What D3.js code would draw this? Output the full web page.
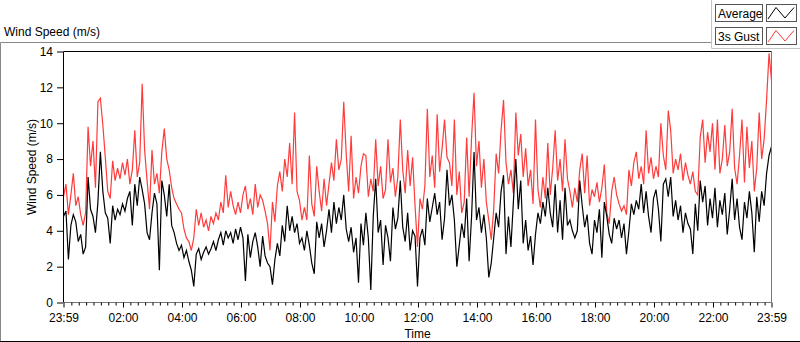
<!DOCTYPE html>
<html lang="en">
<head>
<meta charset="UTF-8">
<title>Wind Speed (m/s)</title>
<script src="https://cdnjs.cloudflare.com/ajax/libs/d3/7.8.5/d3.min.js"></script>
<style>
    body { margin: 0; background: #fff; }
    svg { display: block; font-family: "Liberation Sans", Arial, sans-serif; }
    .axis text { font-size: 12px; fill: #000; }
    .axis line { stroke: #000; }
    .axis path { display: none; }
    .series { fill: none; stroke-width: 1.2; }
</style>
</head>
<body>
<div class="chart"></div>
<script>
    // 5-minute samples from 23:59 to 23:59 the next day
    const stepMinutes = 5;
    const seriesNames = ['Average', '3s Gust'];
    const seriesColors = ['#000000', '#ff3b3b'];
    const yTicks = [0, 2, 4, 6, 8, 10, 12, 14];
    const xTickHours = [2, 4, 6, 8, 10, 12, 14, 16, 18, 20, 22];

    const gust = [
        5.9, 6.6, 4.9, 6.0, 7.2, 5.4, 5.9, 4.9, 4.3, 5.0,
        9.8, 7.6, 9.0, 6.4, 11.2, 11.4, 9.9, 8.1, 6.2, 5.8,
        7.9, 6.8, 7.5, 6.9, 7.8, 7.1, 8.0, 6.6, 7.4, 9.6,
        7.0, 7.8, 12.2, 8.5, 6.8, 5.2, 8.5, 6.6, 7.2, 6.1,
        8.4,
        9.7, 8.0, 7.4, 6.4, 5.8, 5.5, 5.2, 5.0, 4.1,
        3.6, 3.4, 2.9, 3.6, 5.2, 4.3, 5.0, 4.2, 4.6, 4.0,
        4.8, 4.4, 5.0, 4.6, 5.6, 5.0, 7.1, 5.3, 6.2, 5.4,
        4.9, 5.6, 5.0, 6.0, 6.5, 5.2, 5.8, 4.9, 6.6, 5.3,
        6.0, 5.7,
        5.1, 4.4, 2.9, 5.6, 4.5, 6.5, 7.3, 6.2,
        8.0, 7.0, 8.9, 6.6, 10.6, 6.2, 5.7, 4.6, 5.3, 4.6,
        8.2, 5.5, 4.8, 7.6, 6.2, 5.1, 6.9, 5.4, 6.6, 7.8,
        6.8, 9.1, 7.4, 8.0, 11.2, 8.3, 6.2, 9.3, 5.8, 7.0,
        6.1, 7.6, 8.3,
        8.2, 5.9, 6.9, 6.2, 9.1, 6.5, 7.6,
        5.8, 6.3, 9.1, 6.7, 7.5, 5.9, 7.0, 10.2, 7.4, 6.1,
        8.5, 6.5, 8.1, 5.4, 3.1, 5.8, 5.2, 6.5, 10.8, 7.0,
        8.2, 6.4, 10.5, 7.3, 8.6, 10.2, 8.1, 7.8, 6.5, 10.2,
        6.0, 7.3, 5.0, 5.6, 9.2,
        5.9, 9.2, 11.7, 7.6, 9.0,
        6.4, 8.0, 5.6, 4.6, 3.5, 5.2, 8.3, 7.2, 9.6, 11.3,
        7.8, 6.6, 7.4, 6.1, 10.6, 8.2, 9.4, 7.0, 8.6, 6.5,
        7.4, 5.5, 10.2, 6.3, 5.3, 7.0, 5.8, 8.9, 6.0, 7.5,
        9.6, 6.8, 8.0, 6.2, 9.1, 6.9,
        6.2, 5.3, 6.4, 5.6,
        7.4, 8.3, 6.1, 8.2, 5.4, 6.3, 5.9, 6.7, 5.6, 6.4,
        7.7, 5.0, 4.4, 6.2, 7.0, 6.0, 5.5, 5.1, 5.4, 4.9,
        7.4, 6.5, 7.8, 8.4, 6.9, 7.6, 6.6, 9.6, 7.2, 8.1,
        6.9, 7.6, 7.0, 10.0, 8.2, 7.4, 10.7,
        9.6, 7.2, 8.0,
        7.4, 8.3, 6.8, 7.8, 7.1, 6.6, 7.3, 6.2, 6.0, 9.2,
        10.2, 7.8, 9.5, 8.4, 10.0, 7.4, 10.2, 7.2, 8.0, 9.9,
        7.6, 8.4, 10.8, 7.5, 6.6, 8.2, 10.2, 6.7, 9.8, 7.5,
        9.0, 6.2, 7.5, 10.6, 8.0, 9.1, 11.3, 13.9, 12.4
    ];

    const average = [
        4.8, 5.1, 2.4, 4.3, 4.9, 4.5, 3.4, 3.8, 2.7, 3.1,
        7.0, 5.2, 4.8, 3.9, 5.6, 8.4, 6.2, 5.0, 4.7, 3.3,
        5.4, 4.6, 5.2, 4.9, 5.5, 5.1, 5.8, 6.2, 4.3, 6.6,
        5.4, 7.0, 6.3, 5.5, 3.9, 3.5, 5.0, 6.1, 5.5, 1.8,
        6.8,
        6.0, 4.8, 6.6, 4.3, 3.9, 3.3, 2.9, 3.2, 2.5,
        2.9, 2.3, 1.8, 0.9, 2.7, 3.0, 2.4, 2.8, 3.1, 2.7,
        3.0, 3.4, 2.9, 3.5, 3.9, 3.2, 4.0, 3.6, 3.9, 3.3,
        4.1, 3.5, 4.2, 3.6, 1.2, 3.8, 2.5, 3.4, 3.9, 3.1,
        2.0, 3.7,
        2.6, 2.2, 2.0, 1.0, 2.4, 3.3, 2.6, 4.3,
        3.4, 5.4, 4.0, 4.8, 3.9, 4.4, 3.3, 3.6, 2.9, 4.0,
        3.2, 2.2, 1.6, 4.5, 3.6, 4.4, 3.1, 4.0, 5.2, 3.9,
        5.6, 4.4, 5.3, 4.6, 6.0, 4.1, 3.4, 4.2, 2.8, 3.6,
        1.1, 4.4, 3.2,
        5.0, 3.6, 0.7, 4.8, 6.9, 3.9, 4.6,
        2.1, 4.3, 3.6, 2.3, 5.3, 4.1, 4.7, 6.8, 4.2, 3.4,
        5.0, 2.9, 4.0, 3.7, 0.9, 3.6, 4.1, 3.2, 5.8, 4.5,
        5.3, 6.1, 4.9, 5.6, 3.5, 4.7, 7.4, 5.4, 6.0, 4.6,
        2.0, 3.2, 4.4, 3.6, 5.8,
        2.3, 4.8, 8.4, 4.6, 5.3,
        3.9, 4.9, 3.6, 1.4, 2.2, 3.6, 5.0, 4.2, 6.2, 7.1,
        2.7, 4.8, 3.1, 5.6, 8.0, 5.2, 6.8, 3.3, 4.6, 2.9,
        3.7, 2.1, 3.8, 5.0, 4.4, 5.6, 4.8, 6.4, 5.0, 4.2,
        6.6, 3.9, 5.7, 3.5, 6.4, 4.3,
        4.6, 4.0, 3.6, 4.0,
        6.8, 5.4, 4.2, 4.9, 3.3, 2.7, 4.6, 3.9, 5.2, 2.5,
        5.6, 4.8, 3.8, 3.3, 4.7, 4.1, 4.6, 3.6, 4.4, 2.7,
        4.0, 5.5, 4.9, 5.7, 5.2, 6.6, 5.0, 6.2, 4.8, 3.9,
        5.8, 6.3, 5.2, 3.4, 6.6, 6.9, 5.9,
        7.0, 4.8, 5.7,
        4.6, 5.4, 3.9, 5.0, 4.4, 4.1, 2.7, 5.5, 4.0, 6.8,
        5.6, 6.5, 4.3, 5.8, 4.7, 6.4, 4.2, 5.7, 4.9, 6.1,
        3.8, 5.2, 6.9, 4.6, 5.8, 4.2, 3.5, 5.6, 4.7, 6.2,
        5.0, 2.8, 5.9, 4.5, 6.2, 5.4, 7.2, 8.2, 8.7
    ];

    const width = 800;
    const height = 342;
    const plot = { left: 63.5, right: 771.5, top: 51.5, bottom: 302.5 };

    const start = new Date(2020, 0, 1, 23, 59);
    const end = d3.timeMinute.offset(start, 24 * 60);
    const timeAt = i => d3.timeMinute.offset(start, i * stepMinutes);

    const svg = d3.select('.chart')
        .append('svg')
        .attr('width', width)
        .attr('height', height);

    const x = d3.scaleTime().domain([start, end]).range([plot.left, plot.right]);
    const y = d3.scaleLinear().domain([0, 14]).range([plot.bottom, plot.top]);

    // outer panel frame
    svg.append('path')
        .attr('d', 'M0.5,342V42.5H711')
        .attr('fill', 'none')
        .attr('stroke', '#888');
    svg.append('path')
        .attr('d', 'M0,341.5H800')
        .attr('stroke', '#000');
    svg.append('path')
        .attr('d', 'M711.5,0V48.5H800')
        .attr('fill', 'none')
        .attr('stroke', '#c4c4c4');

    svg.append('text')
        .attr('x', 4)
        .attr('y', 36)
        .attr('font-size', 12)
        .text('Wind Speed (m/s)');

    // plot area
    svg.append('rect')
        .attr('x', plot.left)
        .attr('y', plot.top)
        .attr('width', plot.right - plot.left)
        .attr('height', plot.bottom - plot.top)
        .attr('fill', '#fff');

    const line = d3.line()
        .x((d, i) => x(timeAt(i)))
        .y(d => y(d));

    svg.append('path')
        .datum(gust)
        .attr('class', 'series')
        .attr('stroke', seriesColors[1])
        .attr('d', line);

    svg.append('path')
        .datum(average)
        .attr('class', 'series')
        .attr('stroke', seriesColors[0])
        .attr('d', line);

    // frame: dark top/left, grey bottom/right
    svg.append('path')
        .attr('d', `M${plot.left},${plot.bottom}V${plot.top}H${plot.right}`)
        .attr('fill', 'none')
        .attr('stroke', '#000');
    svg.append('path')
        .attr('d', `M${plot.right},${plot.top}V${plot.bottom}H${plot.left}`)
        .attr('fill', 'none')
        .attr('stroke', '#777');

    // y axis
    svg.append('g')
        .attr('class', 'axis')
        .attr('transform', `translate(${plot.left - 0.5},0)`)
        .call(d3.axisLeft(y).tickValues(yTicks).tickSize(6).tickSizeOuter(0).tickPadding(4));

    // x axis, major + minor ticks
    const majorTicks = [start].concat(xTickHours.map(h => new Date(2020, 0, 2, h, 0)), [end]);
    const minorTicks = d3.timeMinute.every(15).range(start, end)
        .filter(t => (t - start) > 6e5 && (end - t) > 6e5 && t.getMinutes() % 60 + t.getHours() % 2 * 60 !== 0);

    svg.append('g')
        .attr('class', 'axis')
        .attr('transform', `translate(0,${plot.bottom})`)
        .call(d3.axisBottom(x).tickValues(minorTicks).tickSize(3).tickFormat(''));

    svg.append('g')
        .attr('class', 'axis')
        .attr('transform', `translate(0,${plot.bottom})`)
        .call(d3.axisBottom(x).tickValues(majorTicks).tickSize(5).tickPadding(6)
            .tickFormat(d3.timeFormat('%H:%M')));

    svg.append('text')
        .attr('x', (plot.left + plot.right) / 2)
        .attr('y', 338)
        .attr('text-anchor', 'middle')
        .attr('font-size', 12)
        .text('Time');

    svg.append('text')
        .attr('transform', `translate(36,${(plot.top + plot.bottom) / 2 - 10}) rotate(-90)`)
        .attr('text-anchor', 'middle')
        .attr('font-size', 12)
        .text('Wind Speed (m/s)');

    // legend
    const legend = svg.selectAll('.legend')
        .data(seriesNames)
        .enter()
        .append('g')
        .attr('class', 'legend')
        .attr('transform', (d, i) => `translate(0,${i * 23})`);

    legend.append('rect')
        .attr('x', 715.5).attr('y', 4.5)
        .attr('width', 47).attr('height', 17)
        .attr('fill', '#fff').attr('stroke', '#555');
    legend.append('text')
        .attr('x', 718).attr('y', 17.5)
        .attr('font-size', 12)
        .text(d => d);
    legend.append('rect')
        .attr('x', 766.5).attr('y', 4.5)
        .attr('width', 30).attr('height', 17)
        .attr('fill', '#fff').attr('stroke', '#555');
    legend.append('path')
        .attr('d', 'M768,19L776,7.5L785,18L794,7.5')
        .attr('fill', 'none')
        .attr('stroke', (d, i) => seriesColors[i]);
</script>
</body>
</html>
